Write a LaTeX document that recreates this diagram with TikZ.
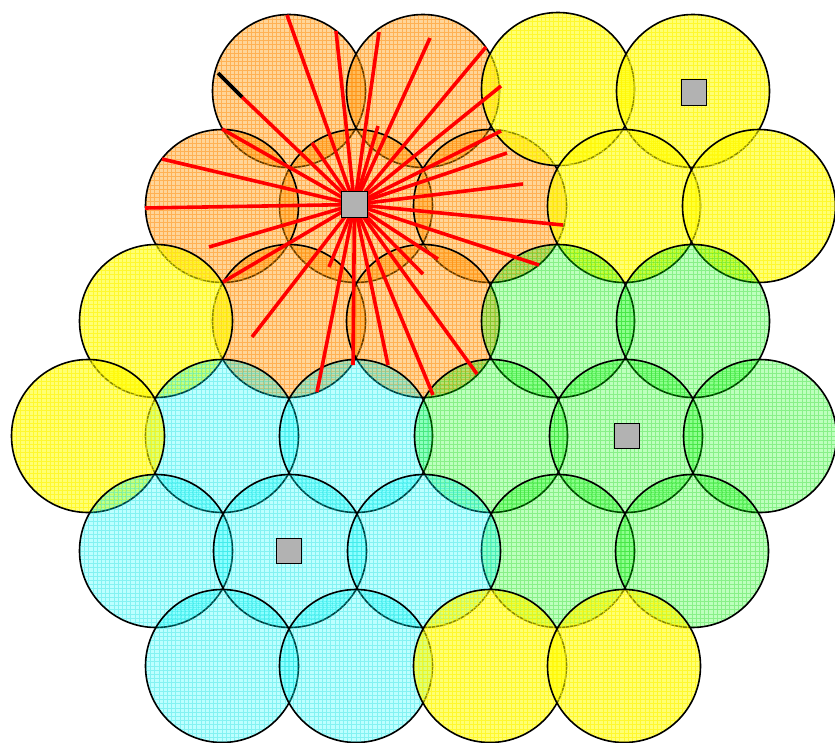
\documentclass[tikz,border=0pt]{standalone}
\definecolor{orF}{RGB}{255,150,0}
\definecolor{orL}{RGB}{255,135,0}
\definecolor{yeF}{RGB}{255,255,0}
\definecolor{yeL}{RGB}{255,245,0}
\definecolor{grF}{RGB}{0,255,0}
\definecolor{grL}{RGB}{0,200,0}
\definecolor{cyF}{RGB}{0,255,255}
\definecolor{cyL}{RGB}{0,215,215}
\definecolor{sqG}{RGB}{178,178,178}
\begin{document}
\begin{tikzpicture}[x=1pt,y=-1pt,
  cell/.style n args={4}{circle,minimum size=153pt,inner sep=0pt,outer sep=0pt,draw=black,line width=1.6pt,
    path picture={
      \fill[#1,fill opacity=#2] (path picture bounding box.south west) rectangle (path picture bounding box.north east);
      \draw[#3,draw opacity=#4,line width=0.7pt] (path picture bounding box.south west) grid[step=4.2pt] (path picture bounding box.north east);
    }},
  orc/.style={cell={orF}{0.4}{orL}{0.45}},
  yec/.style={cell={yeF}{0.55}{yeL}{0.6}},
  grc/.style={cell={grF}{0.26}{grL}{0.28}},
  cyc/.style={cell={cyF}{0.26}{cyL}{0.3}},
  bs/.style={rectangle,minimum size=25.5pt,inner sep=0pt,fill=sqG,draw=black,line width=1.3pt},
  ray/.style={red,line width=3.6pt},
  tipseg/.style={black,line width=3.6pt}]
\useasboundingbox (0,0) rectangle (835,742);
% hex lattice: x = 88 + 67 m, rows y = 91, 206, 321, 436, 551, 666
\node[orc] (c13) at (289,91) {};
\node[orc] (c15) at (423,91) {};
\node[orc] (c24) at (356,206) {};
\node[orc] (c22) at (222,206) {};
\node[orc] (c26) at (490,206) {};
\node[orc] (c33) at (289,321) {};
\node[orc] (c35) at (423,321) {};
\node[yec] (c17) at (558,89) {};
\node[yec] (c19) at (693,91) {};
\node[yec] (c28) at (624,206) {};
\node[yec] (c210) at (759,206) {};
\node[yec] (c31) at (156,321) {};
\node[cyc] (c42) at (222,436) {};
\node[yec] (c40) at (88,436) {};
\node[cyc] (c44) at (356,436) {};
\node[grc] (c37) at (558,321) {};
\node[grc] (c39) at (693,321) {};
\node[grc] (c46) at (491,436) {};
\node[grc] (c48) at (626,436) {};
\node[grc] (c410) at (760,436) {};
\node[grc] (c57) at (558,551) {};
\node[grc] (c59) at (692,551) {};
\node[cyc] (c51) at (156,551) {};
\node[cyc] (c53) at (290,551) {};
\node[cyc] (c55) at (424,551) {};
\node[cyc] (c62) at (222,666) {};
\node[cyc] (c64) at (356,666) {};
\node[yec] (c66) at (490,666) {};
\node[yec] (c68) at (624,666) {};
% ray end points
\coordinate (e1) at (287,15);
\coordinate (e2) at (336,31);
\coordinate (e3) at (379,32);
\coordinate (e4) at (430,38);
\coordinate (e5) at (486,47);
\coordinate (e6) at (501,86);
\coordinate (e7) at (501,131);
\coordinate (e8) at (507,153);
\coordinate (e9) at (523,184);
\coordinate (e10) at (563,225);
\coordinate (e11) at (539,265);
\coordinate (e12) at (438,259);
\coordinate (e13) at (477,374);
\coordinate (e14) at (433,395);
\coordinate (e15) at (423,274);
\coordinate (e16) at (388,365);
\coordinate (e17) at (353,365);
\coordinate (e18) at (317,392);
\coordinate (e19) at (329,267);
\coordinate (e20) at (252,337);
\coordinate (e21) at (223,282);
\coordinate (e22) at (209,247);
\coordinate (e23) at (145,208);
\coordinate (e24) at (162,159);
\coordinate (e25) at (222,129);
\coordinate (e26) at (242,97);
\coordinate (e26b) at (218,73);
\coordinate (e27) at (312,143);
\coordinate (e28) at (378,126);
\coordinate (hub) at (354.5,204.5);
\foreach \k in {1,...,28} {\draw[ray] (hub) -- (e\k);}
\draw[tipseg] (e26) -- (e26b);
% base stations
\node[bs] (s1) at (hub) {};
\node[bs] (s2) at (694,92.5) {};
\node[bs] (s3) at (627,436) {};
\node[bs] (s4) at (289,551) {};
\end{tikzpicture}
\end{document}
